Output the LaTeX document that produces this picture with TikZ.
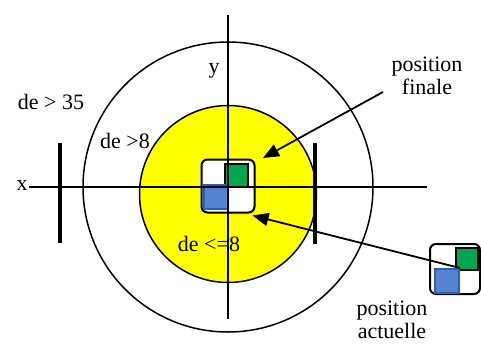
\documentclass[tikz,border=0pt]{standalone}
\usepackage{fontspec}
\setmainfont{Liberation Serif}
\usepackage{tikz}
\usetikzlibrary{arrows.meta, positioning}
\definecolor{zonejaune}{RGB}{255,255,0}
\definecolor{vertfin}{RGB}{0,166,80}
\definecolor{bleuact}{RGB}{86,130,210}
\definecolor{bleubord}{RGB}{38,98,186}
\tikzset{
  lbl/.style={font=\fontsize{22}{23}\selectfont, inner sep=1pt, align=center},
  zone/.style={circle, draw=black, line width=1.5pt, inner sep=0pt},
  posbox/.style={rectangle, rounded corners=6pt, draw=black, line width=2pt, fill=white, inner sep=0pt},
  greensq/.style={rectangle, draw=black, line width=2pt, fill=vertfin, inner sep=0pt},
  bluesq/.style={rectangle, draw=bleubord, line width=2pt, fill=bleuact, inner sep=0pt},
  axe/.style={line width=1.5pt, draw=black},
  borne/.style={line width=3.5pt, draw=black},
  pointer/.style={-{Triangle[length=16pt, width=13pt]}, line width=1.8pt, draw=black},
}

\begin{document}
\begin{tikzpicture}[x=1pt, y=-1pt]
    \useasboundingbox (0,0) rectangle (481,345);

    % zones
    \node[zone, minimum size=290pt] (outer) at (228,187) {};
    \node[zone, fill=zonejaune, minimum size=177pt] (inner) at (228,194) {};

    % current position (centre)
    \node[posbox, minimum size=53pt] (cur) at (228,186) {};
    \node[greensq, minimum size=23pt] (gcur) at (236.5,175) {};
    \node[bluesq, minimum size=24pt] (bcur) at (215.5,196.5) {};

    % axes
    \node[lbl] (xlab) at (22,185) {x};
    \coordinate (xend) at (427,187);
    \coordinate (ytop) at (228,15);
    \coordinate (ybot) at (228,319);
    \draw[axe] (xlab.east |- xend) -- (xend);
    \draw[axe] (ytop) -- (ybot);
    \node[lbl] (ylab) at (214,71) {y};

    % limits
    \coordinate (bl1) at (60,143);
    \coordinate (bl2) at (60,243);
    \coordinate (br1) at (315,143);
    \coordinate (br2) at (315,244);
    \draw[borne] (bl1) -- (bl2);
    \draw[borne] (br1) -- (br2);

    % labels
    \node[lbl] (far) at (51,102) {de > 35};
    \node[lbl] (mid) at (125,141) {de >8};
    \node[lbl] (near) at (209,244) {de <=8};

    % final position
    \node[lbl] (fin) at (427,76) {position\\finale};
    \coordinate (finstart) at (383,92);
    \draw[pointer] (finstart) -- (263,158);

    % actual position
    \node[posbox, minimum size=50pt] (act) at (455,269) {};
    \node[greensq, minimum size=22pt] (gact) at (467,259) {};
    \node[bluesq, minimum size=24pt] (bact) at (447,281) {};
    \node[lbl] (actlbl) at (392,320) {position\\actuelle};
    \draw[pointer] (bact.north east) -- ([shift={(-3pt,-2pt)}]cur.south east);
\end{tikzpicture}
\end{document}
